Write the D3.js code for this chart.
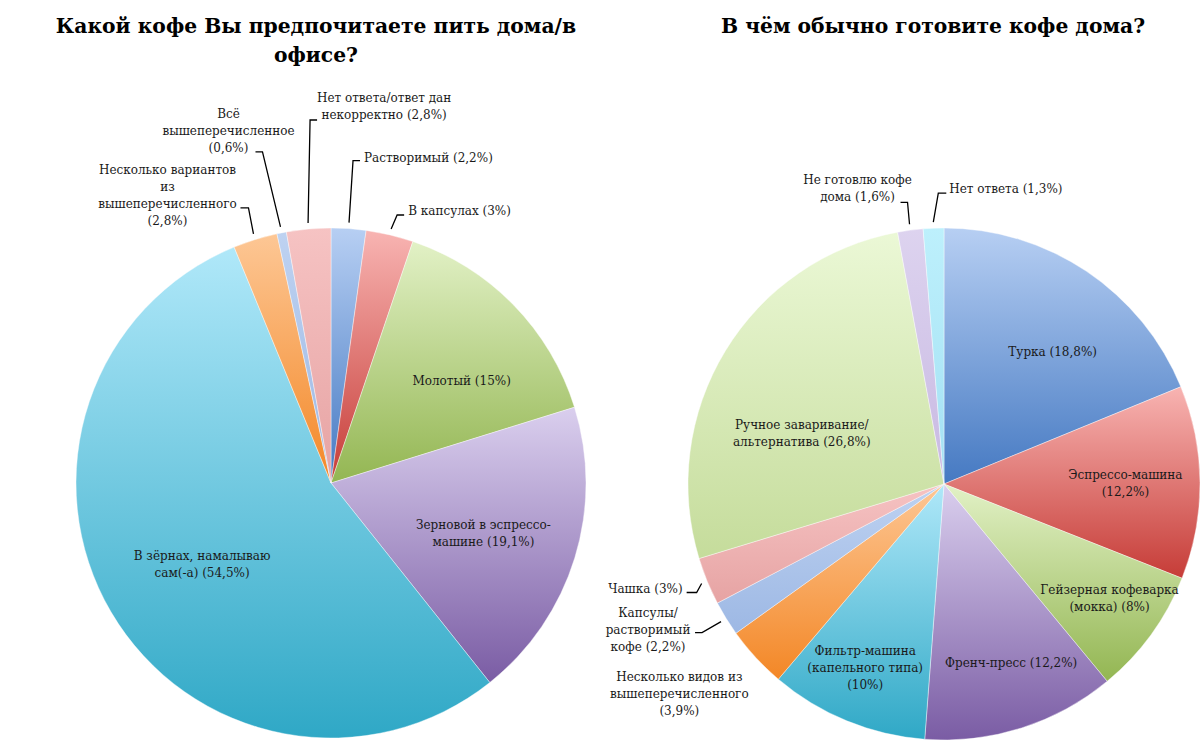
<!DOCTYPE html>
<html>
<head>
<meta charset="utf-8">
<script src="https://cdn.jsdelivr.net/npm/d3@7"></script>
<style>
  body { margin: 0; background: #ffffff; }
  svg text { font-family: "DejaVu Serif", "Liberation Serif", serif; }
</style>
</head>
<body>
<div id="chart"></div>
<script>
// Left chart data
const leftTitle = ["Какой кофе Вы предпочитаете пить дома/в", "офисе?"];
const leftCategories = [
    "Растворимый",
    "В капсулах",
    "Молотый",
    "Зерновой в эспрессо-\nмашине",
    "В зёрнах, намалываю\nсам(-а)",
    "Несколько вариантов\nиз\nвышеперечисленного",
    "Всё\nвышеперечисленное",
    "Нет ответа/ответ дан\nнекорректно"
];
const leftValues = [2.2, 3, 15, 19.1, 54.5, 2.8, 0.6, 2.8];

// Right chart data
const rightTitle = ["В чём обычно готовите кофе дома?"];
const rightCategories = [
    "Турка",
    "Эспрессо-машина",
    "Гейзерная кофеварка\n(мокка)",
    "Френч-пресс",
    "Фильтр-машина\n(капельного типа)",
    "Несколько видов из\nвышеперечисленного",
    "Капсулы/\nрастворимый\nкофе",
    "Чашка",
    "Ручное заваривание/\nальтернатива",
    "Не готовлю кофе\nдома",
    "Нет ответа"
];
const rightValues = [18.8, 12.2, 8, 12.2, 10, 3.9, 2.2, 3, 26.8, 1.6, 1.3];

// Gradient palette: [top, bottom]
const palette = {
    blue:     ["#b7cff3", "#4579c2"],
    red:      ["#f8b4b2", "#c63c37"],
    green:    ["#e2f1c6", "#93b652"],
    purple:   ["#dacfee", "#7a5ca4"],
    aqua:     ["#b0e8f9", "#2fa8c6"],
    orange:   ["#fdc795", "#f38726"],
    ltblue:   ["#bed2f1", "#9db8e4"],
    ltpink:   ["#f6c3c3", "#e6a3a3"],
    ltgreen:  ["#ebf8d6", "#c5dc9b"],
    ltpurple: ["#ddd3ef", "#c8b9e2"],
    ltaqua:   ["#bdf0fc", "#a3e0f3"]
};
const leftColors = ["blue", "red", "green", "purple", "aqua", "orange", "ltblue", "ltpink"];
const rightColors = ["blue", "red", "green", "purple", "aqua", "orange", "ltblue", "ltpink", "ltgreen", "ltpurple", "ltaqua"];

// Label placement (inside: radius factor + nudge; outside: leader elbow + text offset)
const leftLayout = [
    { out: true, ex: 4, ey: -62, h: 7, anchor: "start", tx: 4, ty: -3 },
    { out: true, ex: 6, ey: -14, h: 7, anchor: "start", tx: 4, ty: -4 },
    { k: 0.65, dx: 12, dy: 14 },
    { k: 0.65, dx: -6, dy: 2 },
    { k: 0.65, dx: 14, dy: -3 },
    { out: true, ex: -5, ey: -26, h: -8, anchor: "middle", tx: -73, ty: -38, sep: "\n" },
    { out: true, ex: -18, ey: -75, h: -7, anchor: "middle", tx: -27, ty: -38, sep: "\n" },
    { out: true, ex: 2, ey: -103, h: 7, anchor: "middle", tx: 67, ty: -22 }
];
const rightLayout = [
    { k: 0.65, dx: 16, dy: 6 },
    { k: 0.65, dx: 15, dy: 0, sep: "\n" },
    { k: 0.78, dx: 4, dy: -3 },
    { k: 0.75, dx: 9, dy: -4 },
    { k: 0.78, dx: -3, dy: -1, sep: "\n" },
    { out: true, leader: false, tx: -72, ty: 15, anchor: "middle", sep: "\n" },
    { out: true, ex: -19, ey: 11, h: -7, anchor: "middle", tx: -47, ty: -20 },
    { out: true, ex: -5, ey: 9, h: -10, anchor: "end", tx: -4, ty: -4 },
    { k: 0.6, dx: -11, dy: 29 },
    { out: true, ex: -2, ey: -22, h: -7, anchor: "middle", tx: -43, ty: -22 },
    { out: true, ex: 5, ey: -29, h: 8, anchor: "start", tx: 3, ty: -4 }
];

const width = 1200;
const height = 740;
const lineHeight = 17;

const svg = d3.select("#chart")
    .append("svg")
    .attr("width", width)
    .attr("height", height);

const defs = svg.append("defs");

function pct(v) {
    return String(v).replace(".", ",") + "%";
}

function drawPie(id, cx, cy, r, titleLines, titleX, categories, values, colors, layout) {
    const g = svg.append("g").attr("transform", `translate(${cx},${cy})`);

    const pie = d3.pie().sort(null).value(d => d);
    const arcs = pie(values);
    const arc = d3.arc().innerRadius(0).outerRadius(r);

    // one vertical gradient per slice
    arcs.forEach((d, i) => {
        const c = palette[colors[i]];
        const grad = defs.append("linearGradient")
            .attr("id", `${id}-grad-${i}`)
            .attr("x1", 0).attr("y1", 0)
            .attr("x2", 0).attr("y2", 1);
        grad.append("stop").attr("offset", "0%").attr("stop-color", c[0]);
        grad.append("stop").attr("offset", "100%").attr("stop-color", c[1]);
    });

    g.selectAll("path.slice")
        .data(arcs)
        .enter()
        .append("path")
        .attr("class", "slice")
        .attr("d", arc)
        .attr("fill", (d, i) => `url(#${id}-grad-${i})`)
        .attr("stroke", "#ffffff")
        .attr("stroke-opacity", 0.5)
        .attr("stroke-width", 0.8);

    const polar = (a, rad) => [rad * Math.sin(a), -rad * Math.cos(a)];

    arcs.forEach((d, i) => {
        const L = layout[i];
        const mid = (d.startAngle + d.endAngle) / 2;
        const text = categories[i] + (L.sep || " ") + "(" + pct(values[i]) + ")";
        const lines = text.split("\n");
        let x, y0, anchor = "middle";

        if (L.out) {
            const s = polar(mid, r + 6);
            let end = s;
            if (L.leader !== false) {
                const elbow = [s[0] + L.ex, s[1] + L.ey];
                end = [elbow[0] + L.h, elbow[1]];
                g.append("path")
                    .attr("d", d3.line()([s, elbow, end]))
                    .attr("fill", "none")
                    .attr("stroke", "#000000")
                    .attr("stroke-width", 1.3);
            }
            x = end[0] + L.tx;
            y0 = end[1] + L.ty;
            anchor = L.anchor;
        } else {
            const p = polar(mid, r * L.k);
            x = p[0] + L.dx;
            y0 = p[1] + L.dy - (lines.length - 1) * lineHeight / 2;
        }

        const t = g.append("text")
            .attr("text-anchor", anchor)
            .attr("font-size", 12)
            .attr("fill", "#1a1a1a");
        lines.forEach((ln, j) => {
            t.append("tspan")
                .attr("x", x)
                .attr("y", y0 + j * lineHeight)
                .attr("dy", "0.35em")
                .text(ln);
        });
    });

    // title
    const tt = svg.append("text")
        .attr("text-anchor", "middle")
        .attr("font-size", 20.3)
        .attr("font-weight", "bold")
        .attr("fill", "#000000");
    titleLines.forEach((ln, j) => {
        tt.append("tspan")
            .attr("x", titleX)
            .attr("y", 33 + j * 29)
            .text(ln);
    });
}

drawPie("left", 331, 483, 255, leftTitle, 316, leftCategories, leftValues, leftColors, leftLayout);
drawPie("right", 944, 484, 256, rightTitle, 933, rightCategories, rightValues, rightColors, rightLayout);
</script>
</body>
</html>
